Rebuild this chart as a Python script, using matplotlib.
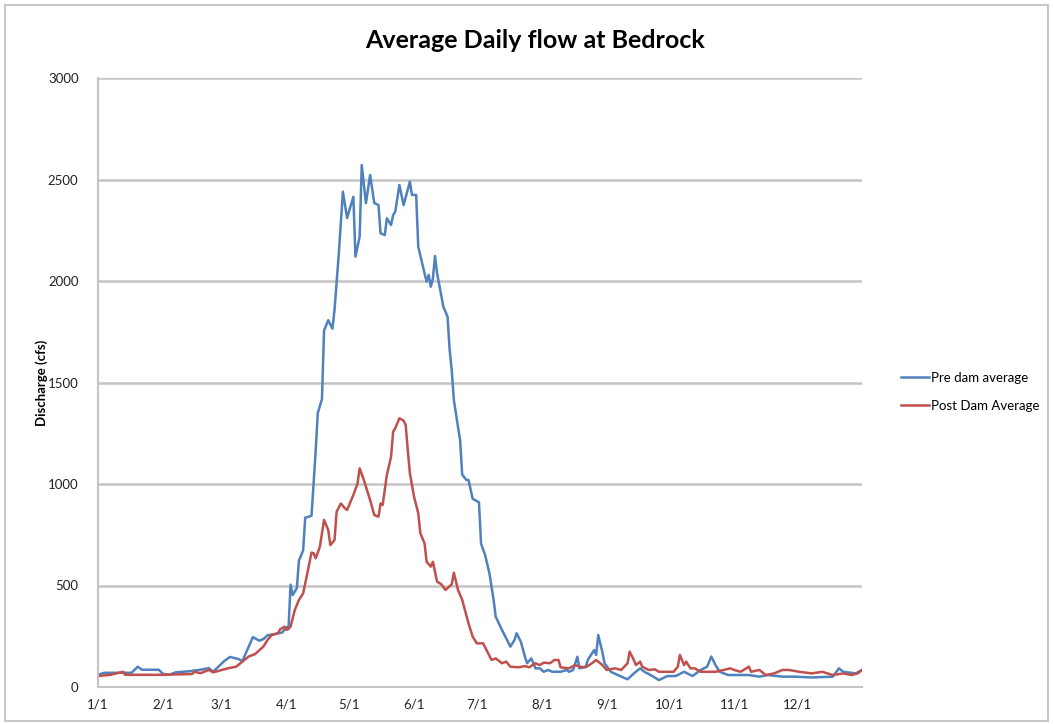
import matplotlib
matplotlib.use("Agg")
import matplotlib.pyplot as plt
from matplotlib.patches import Rectangle

# Daily discharge (cfs) by day of year, day 0 = Jan 1
pre_days = [0, 3, 16, 19, 21, 29, 31, 34, 37, 44, 49, 53, 55, 60, 63, 67, 69, 74, 77, 79,
            81, 85, 88, 90, 91, 92, 93, 95, 96, 98, 99, 102, 104, 105, 107, 108, 110, 112,
            113, 115, 117, 119, 122, 123, 125, 126, 128, 130, 132, 134, 135, 137, 138, 140,
            141, 142, 144, 146, 149, 150, 152, 153, 156, 157, 158, 159, 160, 161, 162, 165,
            167, 168, 169, 170, 172, 173, 174, 176, 177, 179, 182, 183, 185, 187, 189, 190,
            193, 195, 197, 199, 200, 202, 204, 205, 207, 209, 211, 213, 215, 217, 221, 224,
            225, 227, 229, 230, 233, 234, 237, 238, 239, 241, 242, 245, 250, 253, 256, 259,
            261, 264, 268, 272, 276, 280, 284, 288, 291, 293, 295, 297, 301, 306, 311, 316,
            320, 327, 333, 341, 351, 354, 356, 362, 365]
pre_cfs = [60, 70, 70, 100, 85, 85, 65, 60, 72, 78, 85, 93, 75, 125, 148, 138, 128, 246, 228, 236,
           255, 262, 268, 296, 285, 504, 453, 487, 623, 673, 834, 843, 1164, 1350, 1418, 1756, 1807, 1765,
           1858, 2128, 2440, 2310, 2415, 2120, 2218, 2571, 2383, 2522, 2384, 2374, 2235, 2226, 2309, 2276,
           2325, 2341, 2473, 2374, 2489, 2424, 2424, 2169, 2038, 1997, 2030, 1972, 2013, 2123, 2038, 1873,
           1824, 1660, 1561, 1414, 1283, 1215, 1046, 1020, 1020, 927, 910, 707, 648, 560, 429, 346,
           281, 240, 199, 232, 265, 223, 149, 117, 141, 92, 92, 75, 84, 75, 75, 84,
           75, 84, 149, 92, 100, 133, 182, 158, 256, 170, 117, 75, 51, 38, 67, 92,
           75, 59, 34, 54, 54, 75, 54, 84, 100, 150, 108, 75, 59, 59, 59, 51,
           59, 51, 51, 47, 51, 92, 75, 67, 84]

post_days = [0, 6, 12, 13, 31, 37, 45, 46, 49, 53, 55, 62, 66, 69, 72, 75, 79, 81, 83, 86,
             87, 89, 90, 92, 94, 96, 98, 100, 102, 103, 104, 106, 108, 110, 111, 113, 114, 116,
             118, 119, 122, 124, 125, 127, 130, 132, 134, 135, 136, 138, 140, 141, 142, 144, 146,
             147, 148, 149, 151, 153, 154, 156, 157, 159, 160, 162, 164, 166, 169, 170, 172, 174,
             177, 179, 181, 184, 186, 188, 190, 193, 195, 197, 201, 204, 206, 209, 211, 213, 216,
             218, 220, 221, 225, 228, 230, 233, 236, 238, 241, 243, 247, 250, 253, 254, 256, 257,
             259, 260, 263, 266, 268, 275, 277, 278, 280, 281, 283, 285, 288, 295, 299, 302, 304,
             307, 311, 312, 316, 319, 323, 327, 330, 335, 341, 346, 351, 356, 360, 363, 365]
post_cfs = [54, 60, 75, 60, 60, 62, 64, 75, 68, 84, 72, 92, 100, 125, 150, 162, 199, 232, 256, 265,
            284, 297, 281, 297, 379, 429, 461, 560, 662, 659, 634, 691, 823, 773, 699, 724, 863, 904,
            880, 872, 946, 1003, 1077, 1020, 921, 847, 839, 904, 897, 1044, 1134, 1258, 1274, 1324, 1312,
            1291, 1167, 1053, 937, 856, 757, 708, 617, 593, 617, 519, 506, 478, 506, 563, 478, 429,
            314, 248, 215, 215, 174, 133, 141, 117, 125, 100, 97, 103, 97, 117, 108, 120, 117,
            133, 133, 97, 92, 108, 100, 97, 117, 133, 108, 84, 92, 84, 117, 174, 133, 108,
            125, 100, 84, 87, 75, 75, 100, 158, 108, 125, 92, 92, 75, 75, 84, 92, 84,
            75, 100, 75, 84, 59, 67, 84, 84, 75, 67, 75, 59, 67, 59, 67, 84]

month_starts = [0, 31, 59, 90, 120, 151, 181, 212, 243, 273, 304, 334]
month_labels = ["1/1", "2/1", "3/1", "4/1", "5/1", "6/1", "7/1", "8/1", "9/1", "10/1", "11/1", "12/1"]
y_ticks = [0, 500, 1000, 1500, 2000, 2500, 3000]

plt.rcParams['font.family'] = ['Lato', 'DejaVu Sans']

fig = plt.figure(figsize=(10.53, 7.24), dpi=100)
ax = fig.add_axes([98 / 1053, 1 - 687 / 724, (862 - 98) / 1053, (687 - 78) / 724])

# chart frame
fig.patches.append(Rectangle((5 / 1053, 3 / 724), 1043 / 1053, 716 / 724, transform=fig.transFigure,
                             fill=False, edgecolor='#c8c8c8', linewidth=1.5))

ax.plot(pre_days, pre_cfs, color='#4f81bd', linewidth=1.8, label='Pre dam average')
ax.plot(post_days, post_cfs, color='#c0504d', linewidth=1.8, label='Post Dam Average')

ax.set_xlim(0, 365)
ax.set_ylim(0, 3000)
ax.set_xticks(month_starts)
ax.set_xticklabels(month_labels)
ax.set_yticks(y_ticks)
ax.tick_params(axis='both', length=0, labelsize=9.5, colors='#222222')
ax.tick_params(axis='x', pad=8)
ax.tick_params(axis='y', pad=14)

ax.grid(axis='y', color='#c4c4c4', linewidth=1.8)
ax.set_axisbelow(True)
for side in ['top', 'right']:
    ax.spines[side].set_visible(False)
for side in ['left', 'bottom']:
    ax.spines[side].set_color('#c4c4c4')
    ax.spines[side].set_linewidth(1.5)

ax.set_ylabel('Discharge (cfs)', fontsize=9.5, fontweight='bold', labelpad=0)
fig.text(535 / 1053, 1 - 40 / 724, 'Average Daily flow at Bedrock', ha='center', va='center',
         fontsize=18, fontweight='bold')

ax.legend(loc='center left', bbox_to_anchor=(889 / 1053, 1 - 392 / 724), bbox_transform=fig.transFigure,
          frameon=False, fontsize=9.5, handlelength=2.1, handletextpad=0.15, labelspacing=1.2)

fig.savefig('out.png', dpi=100)
